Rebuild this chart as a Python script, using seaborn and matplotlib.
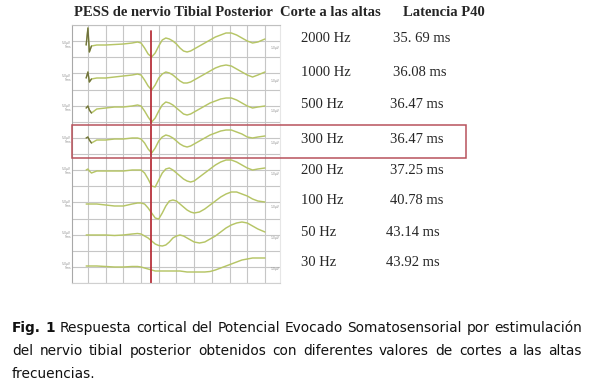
import matplotlib
matplotlib.use("Agg")
import matplotlib.pyplot as plt
from matplotlib.patches import Rectangle
import numpy as np
import pandas as pd
import seaborn as sns

# --- data ---------------------------------------------------------------
t_ms = [-1, 0, 0.8, 2, 5, 10, 15, 20, 25, 28, 30, 32, 34, 36, 38, 40, 42, 44, 46, 48,
        50, 52, 54, 56, 58, 60, 63, 66, 69, 72, 75, 78, 81, 84, 87, 90, 93, 96, 100]

# amplitude of each trace (px above its own baseline), one list per low-pass cut
trace_2000 = [0, 17, -7, -1, 0, 0, 0.5, 1, 2, 3, 2, -3, -9, -12, -8, -1, 5, 7, 6, 4,
              1, -3, -6, -7, -6, -4, -1, 2, 5, 8, 10, 12, 12, 10, 7, 4, 2, 3, 6]
trace_1000 = [0, 6, -4, -1, 0, 0, 1, 2, 3, 4, 3, -2, -8, -12, -7, 0, 4, 6, 5, 3,
              0, -3, -5, -5, -4, -2, 1, 4, 7, 10, 12, 13, 12, 9, 6, 3, 1, 3, 6]
trace_500 = [0, 2, -2, -5, -1, 0, 1, 1, 2, 3, 2, -3, -9, -14, -10, -3, 3, 6, 5, 3,
             0, -3, -6, -7, -6, -4, -1, 2, 5, 7, 9, 10, 10, 8, 5, 2, 0, 1, 2]
trace_300 = [2, 3, 0, -3, 0, 0, 1, 1, 2, 2, 1, -3, -9, -13, -8, -1, 3, 5, 4, 2,
             -1, -4, -6, -7, -6, -4, -1, 2, 5, 7, 9, 10, 10, 8, 6, 3, 2, 3, 4]
trace_200 = [1, 2, 0, -2, 0, 0, 0, 0, 1, 1, 1, -2, -8, -15, -16, -9, -2, 2, 3, 1,
             -2, -5, -8, -10, -11, -10, -6, -2, 2, 6, 9, 11, 11, 9, 6, 3, 1, 2, 3]
trace_100 = [0, 0, 0, 0, 0, -1, -2, -2, 0, 1, 1, 0, -4, -9, -14, -15, -9, -2, 3, 4,
             3, 0, -3, -6, -8, -9, -8, -5, -1, 3, 7, 10, 12, 12, 10, 8, 5, 3, 2]
trace_50 = [0, 0, 0, 0, 0, 0, -0.5, 0, 1, 1.5, 1, -1, -3, -6, -9, -10.5, -11, -10, -7, -3,
            -1, 0, -1, -3, -5, -7, -8, -7, -4, -1, 3, 7, 10, 12, 13, 12, 9, 6, 3]
trace_30 = [0, 0, 0, 0, 0, -0.5, -1, -1, -0.5, -0.5, -1, -2, -3, -4, -5, -5, -5, -5, -5, -5,
            -5, -5, -5.5, -6, -6, -6, -6, -6, -5.5, -4, -2, 0, 2, 4, 6, 7, 8, 8, 8]

freq_labels = ["2000 Hz", "1000 Hz", "500 Hz", "300 Hz", "200 Hz", "100 Hz", "50 Hz", "30 Hz"]
latencies = ["35. 69 ms", "36.08 ms", "36.47 ms", "36.47 ms", "37.25 ms", "40.78 ms",
             "43.14 ms", "43.92 ms"]
p40_ms = 35.69
highlight = "300 Hz"

title_parts = ["PESS de nervio Tibial Posterior", "Corte a las altas", "Latencia P40"]
caption_lines = [
    "Fig. 1 Respuesta cortical del Potencial Evocado Somatosensorial por estimulación",
    "del nervio tibial posterior obtenidos con diferentes valores de cortes a las altas",
    "frecuencias.",
]

traces = [trace_2000, trace_1000, trace_500, trace_300,
          trace_200, trace_100, trace_50, trace_30]

# --- layout (pixel positions in the 598x384 picture) ----------------------
W, H = 598, 384
baselines = [45, 78, 108, 140, 171, 204, 235, 266]
label_y = [38, 73, 105, 139, 171, 201, 232, 262]
lat_x = [393, 393, 390, 390, 390, 390, 386, 386]
cap_y = [328, 351, 374]

sns.set_theme(style="white")
plt.rcParams["font.family"] = ["DejaVu Sans"]

fig = plt.figure(figsize=(W / 100, H / 100), dpi=100)
fig.patch.set_facecolor("white")
renderer = fig.canvas.get_renderer()


def fx(px):
    return px / W


def fy(py):
    return 1 - py / H


def width_at(s, size, **kw):
    t = fig.text(0, 0, s, fontsize=size, **kw)
    w = t.get_window_extent(renderer).width
    t.remove()
    return w


ax = fig.add_axes([fx(72), fy(283), (280 - 72) / W, (283 - 25) / H])
ax.set_facecolor("white")
ax.set_xlim(-9, 108.5)
ax.set_ylim(283, 25)
ax.set_xticks(np.arange(0, 101, 10))
ax.set_yticks(25 + np.arange(17) * (258 / 16))
ax.grid(True, color="#c6c6c6", lw=0.8)
ax.tick_params(length=0, labelbottom=False, labelleft=False)
for side, col in [("left", "#a8a8a8"), ("top", "#c0c0c0"),
                  ("right", "#e6e6e6"), ("bottom", "#d0d0d0")]:
    ax.spines[side].set_color(col)
    ax.spines[side].set_linewidth(0.8)

rows = []
for lab, base, vals in zip(freq_labels, baselines, traces):
    for t, v in zip(t_ms, vals):
        rows.append({"freq": lab, "t": t, "y": base - v})
df = pd.DataFrame(rows)
sns.lineplot(data=df, x="t", y="y", units="freq", estimator=None, sort=False,
             color="#b6c566", lw=1.05, ax=ax, legend=False)
# stimulus artefact drawn darker at the start of the upper traces
art = df[(df.t <= 2) & df.freq.isin(freq_labels[:4])]
sns.lineplot(data=art, x="t", y="y", units="freq", estimator=None, sort=False,
             color="#6f7040", lw=0.9, ax=ax, legend=False)
ax.set_xlabel("")
ax.set_ylabel("")

ax.axvline(p40_ms, ymin=0, ymax=(283 - 31) / 258, color="#b8323c", lw=1.3)

# tiny scale labels of the recording software
for base in baselines:
    fig.text(fx(71), fy(base), "5.0µV\n5ms", fontsize=2.2, color="#8a8a8a",
             ha="right", va="center", linespacing=1.0)
    fig.text(fx(271), fy(base + 3), "1.0µV", fontsize=2.2, color="#8a8a8a",
             ha="left", va="center")

# highlighted row
fig.patches.append(Rectangle((fx(72), fy(158)), (466 - 72) / W, (158 - 125) / H,
                             transform=fig.transFigure, fill=False,
                             ec="#b8525c", lw=1.1))

serif = ["Liberation Serif", "DejaVu Serif"]
hz_size = 10 * 50 / width_at("2000 Hz", 10, family=serif)
for lab, lat, y, lx in zip(freq_labels, latencies, label_y, lat_x):
    fig.text(fx(301), fy(y), lab, family=serif, fontsize=hz_size, va="center", ha="left")
    fig.text(fx(lx), fy(y), lat, family=serif, fontsize=hz_size, va="center", ha="left")

# header: one size for all three parts, last part ends at x=485
bold = dict(family=serif, fontweight="bold")
title_size = 10 * 82 / width_at(title_parts[2], 10, **bold)
fig.text(fx(74), fy(12), title_parts[0], fontsize=title_size, va="center", ha="left", **bold)
x_corte = 74 + width_at(title_parts[0], title_size, **bold) + 7
fig.text(fx(x_corte), fy(12), title_parts[1], fontsize=title_size, va="center", ha="left",
         **bold)
fig.text(fx(485), fy(12), title_parts[2], fontsize=title_size, va="center", ha="right",
         **bold)

# caption, justified like the original
cap_size = 10 * 566 / (width_at("Fig. 1", 10, fontweight="bold") +
                       width_at(" " + caption_lines[0][7:], 10))


def place_line(words, y, x0, x1, justify, n_bold=0):
    objs = []
    for k, w in enumerate(words):
        objs.append(fig.text(0, fy(y), w, fontsize=cap_size, va="center", ha="left",
                             fontweight="bold" if k < n_bold else "normal",
                             color="#111111"))
    widths = [o.get_window_extent(renderer).width for o in objs]
    space = width_at("a b", cap_size) - width_at("ab", cap_size)
    gap = (x1 - x0 - sum(widths)) / (len(words) - 1) if justify else space
    x = x0
    for o, w in zip(objs, widths):
        o.set_x(fx(x))
        x += w + gap


for k, (line, y) in enumerate(zip(caption_lines, cap_y)):
    place_line(line.split(" "), y, 12, 582, justify=k < 2, n_bold=2 if k == 0 else 0)

fig.savefig("out.png", dpi=100)
